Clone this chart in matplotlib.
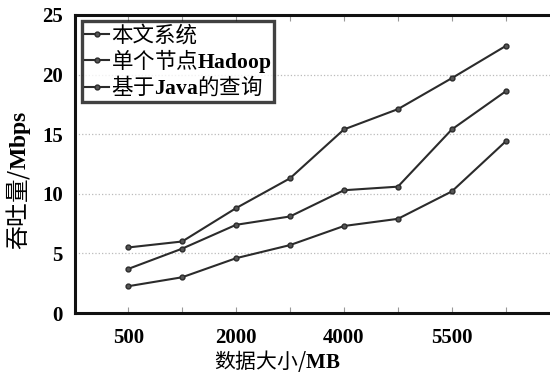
import matplotlib
matplotlib.use("Agg")
import matplotlib.pyplot as plt

# ---------------------------------------------------------------------------
# Data
# ---------------------------------------------------------------------------
x_labels = ["500", "", "2000", "", "4000", "", "5500", ""]
series_names = ["本文系统", r"单个节点$\mathbf{Hadoop}$", r"基于$\mathbf{Java}$的查询"]
ours = [5.5, 6.0, 8.8, 11.3, 15.4, 17.1, 19.7, 22.4]
hadoop = [3.7, 5.4, 7.4, 8.1, 10.3, 10.6, 15.4, 18.6]
java = [2.25, 3.0, 4.6, 5.7, 7.3, 7.9, 10.2, 14.4]

# CJK parts regular, latin parts bold serif (via mathtext)
plt.rcParams["font.family"] = ["Noto Sans CJK SC", "DejaVu Sans"]
plt.rcParams["mathtext.fontset"] = "custom"
plt.rcParams["mathtext.bf"] = "Liberation Serif:bold"
plt.rcParams["mathtext.rm"] = "Liberation Serif"
SERIF = "Liberation Serif"

fig = plt.figure(figsize=(5.5, 3.74), dpi=100)
ax = fig.add_axes([0.137, 0.163, 0.863, 0.797])

xs = list(range(len(x_labels)))
for vals, name in zip([ours, hadoop, java], series_names):
    ax.plot(xs, vals, color="#2b2b2b", linewidth=1.5, marker="o",
            markersize=3.5, markerfacecolor="#555555",
            markeredgecolor="#2b2b2b", label=name)

ax.set_xlim(-0.98, 7.82)
ax.set_ylim(0, 25)
ax.set_xticks(xs)
ax.set_xticklabels(x_labels, fontsize=15, fontweight="bold", family=SERIF)
ax.set_yticks([0, 5, 10, 15, 20, 25])
ax.set_yticklabels(["0", "5", "10", "15", "20", "25"], fontsize=15,
                   fontweight="bold", family=SERIF)
ax.tick_params(axis="x", direction="in", length=4, color="#999999",
               top=True, pad=11)
ax.tick_params(axis="y", direction="in", length=0, pad=9)

ax.grid(axis="y", linestyle=":", color="#bbbbbb", linewidth=0.9)
for side in ["left", "bottom", "top"]:
    ax.spines[side].set_linewidth(2.2)
    ax.spines[side].set_color("#111111")
ax.spines["right"].set_visible(False)

ax.set_xlabel(r"数据大小/$\mathbf{MB}$", fontsize=15)
ax.xaxis.set_label_coords(0.425, -0.118)
ax.set_ylabel(r"吞吐量/$\mathbf{Mbps}$", fontsize=17)
ax.yaxis.set_label_coords(-0.09, 0.446)

leg = ax.legend(loc="upper left", frameon=True, fancybox=False,
                borderpad=0.15, labelspacing=0.0, handlelength=1.1,
                handletextpad=0.1, borderaxespad=0.3,
                prop={"size": 15.5})
leg.get_frame().set_edgecolor("#111111")
leg.get_frame().set_linewidth(2.4)

fig.savefig("out.png", dpi=100)
